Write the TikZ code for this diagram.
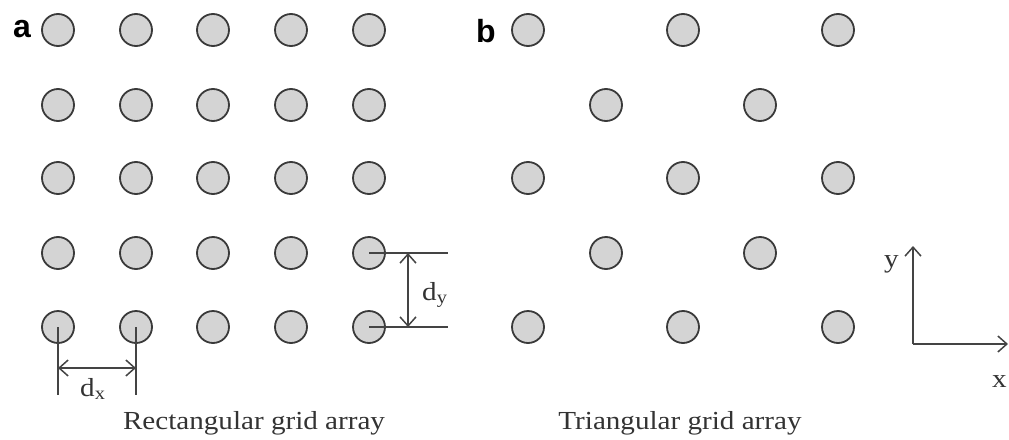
\documentclass[tikz,border=0pt]{standalone}
\usepackage{fontspec}
\setmainfont{Liberation Serif}
\newfontfamily\panelfont{Liberation Sans}
\usetikzlibrary{arrows.meta}
\definecolor{dotfill}{HTML}{D4D4D4}
\definecolor{dotline}{HTML}{3A3A3A}
\definecolor{dimline}{HTML}{444444}
\definecolor{txt}{HTML}{333333}
\tikzset{
  dot/.style={circle, draw=dotline, line width=1.8pt, fill=dotfill, minimum size=32pt, inner sep=0pt},
  dimln/.style={draw=dimline, line width=1.5pt},
  barb/.tip={Straight Barb[length=9pt,width=16pt,line width=1.5pt]},
  dimarrow/.style={dimln, barb-barb},
  axarrow/.style={dimln, -barb},
  lbl/.style={font=\fontsize{26}{30}\selectfont, inner sep=0pt, text=txt, xscale=1.12},
  panel/.style={font=\panelfont\bfseries\fontsize{32}{36}\selectfont, inner sep=0pt}
}
\begin{document}
\begin{tikzpicture}[x=1pt,y=-1pt]
\useasboundingbox (0,0) rectangle (1009,439);
% panel a
\foreach \c/\x in {1/58,2/136,3/213,4/291,5/369}{
  \foreach \r/\y in {1/30,2/105,3/178,4/253,5/327}{
    \node[dot] (a\r\c) at (\x,\y) {};
  }
}
% panel b
\foreach \n/\x/\y in {01/528/30,02/683/30,03/838/30,
                      11/606/105,12/760/105,
                      21/528/178,22/683/178,23/838/178,
                      31/606/253,32/760/253,
                      41/528/327,42/683/327,43/838/327}{
  \node[dot] (b\n) at (\x,\y) {};
}
\node[panel] (pa) at (22,29) {a};
\node[panel] (pb) at (486,31) {b};
% dy dimension
\coordinate (dyt) at (448,253);
\coordinate (dyb) at (448,327);
\draw[dimln] (a45.center) -- (dyt);
\draw[dimln] (a55.center) -- (dyb);
\coordinate (dya) at (408,253);
\coordinate (dyz) at (408,327);
\draw[dimarrow] (dya) -- (dyz);
\node[lbl, anchor=base west] (dy) at (422,300) {d\textsubscript{y}};
% dx dimension
\coordinate (dxl) at (58,395);
\coordinate (dxr) at (136,395);
\draw[dimln] (a51.center) -- (dxl);
\draw[dimln] (a52.center) -- (dxr);
\coordinate (dxa) at (58,368);
\coordinate (dxz) at (136,368);
\draw[dimarrow] (dxa) -- (dxz);
\node[lbl, anchor=base west] (dx) at (80,396) {d\textsubscript{x}};
% axes
\coordinate (o) at (913,344);
\coordinate (ytip) at (913,246);
\coordinate (xtip) at (1008,344);
\draw[axarrow] (o) -- (ytip);
\draw[axarrow] (o) -- (xtip);
\node[lbl, anchor=base west] (ylab) at (884,267) {y};
\node[lbl, anchor=base west] (xlab) at (992,387) {x};
% captions
\node[lbl, anchor=base] (capa) at (254,429) {Rectangular grid array};
\node[lbl, anchor=base] (capb) at (680,429) {Triangular grid array};
\end{tikzpicture}
\end{document}
